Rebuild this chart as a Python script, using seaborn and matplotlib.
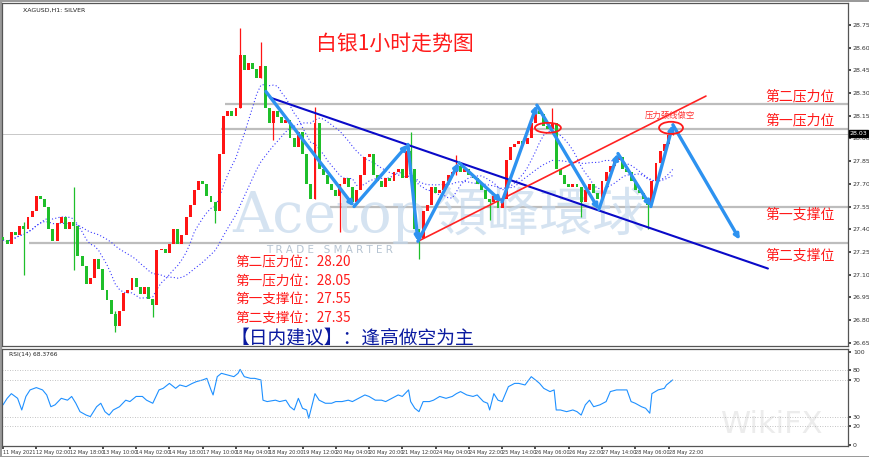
import numpy as np
import pandas as pd
import matplotlib
matplotlib.use("Agg")
import matplotlib.pyplot as plt
from matplotlib.patches import Ellipse
import seaborn as sns

# 2-hour closes of XAGUSD (11 May - 28 May 2021)
closes = [
    27.33, 27.30, 27.38, 27.36, 27.42, 27.40, 27.48, 27.52, 27.62, 27.60,
    27.55, 27.40, 27.32, 27.44, 27.48, 27.40, 27.45, 27.42, 27.22, 27.16,
    27.04, 27.08, 27.20, 27.14, 27.00, 26.93, 26.84, 26.76, 26.86, 26.98,
    27.00, 27.08, 27.02, 26.97, 27.02, 26.94, 26.90, 27.26, 27.27, 27.24,
    27.30, 27.40, 27.30, 27.36, 27.48, 27.56, 27.66, 27.72, 27.70, 27.62,
    27.58, 27.52, 27.90, 28.15, 28.18, 28.15, 28.20, 28.55, 28.45, 28.50,
    28.46, 28.40, 28.48, 28.20, 28.10, 28.18, 28.14, 28.10, 28.12, 28.00,
    27.94, 28.04, 27.90, 27.70, 27.60, 28.10, 27.80, 27.76, 27.70, 27.66,
    27.62, 27.70, 27.74, 27.68, 27.58, 27.66, 27.76, 27.88, 27.90, 27.76,
    27.72, 27.68, 27.74, 27.72, 27.78, 27.80, 27.74, 27.92, 27.80, 27.40,
    27.34, 27.52, 27.56, 27.68, 27.64, 27.66, 27.72, 27.76, 27.78, 27.82,
    27.78, 27.80, 27.76, 27.74, 27.70, 27.66, 27.60, 27.58, 27.62, 27.54,
    27.60, 27.86, 27.94, 27.96, 27.98, 27.96, 28.00, 28.10, 28.18, 28.16,
    28.08, 28.06, 28.10, 27.80, 27.76, 27.70, 27.68, 27.70, 27.68, 27.58,
    27.66, 27.70, 27.64, 27.60, 27.72, 27.78, 27.82, 27.86, 27.88, 27.80,
    27.78, 27.72, 27.66, 27.64, 27.60, 27.56, 27.72, 27.84, 27.92, 27.96,
    28.02, 28.03,
]
first_open = 27.35

# notable wicks: (candle index, low, high)
wicks = [
    (5, 27.10, 27.45), (17, 27.13, 27.68), (27, 26.72, 26.86), (36, 26.82, 26.94),
    (51, 27.44, 27.58), (57, 28.20, 28.73), (62, 28.40, 28.64), (65, 27.99, 28.18),
    (75, 27.60, 28.21), (81, 27.38, 27.70), (98, 27.80, 28.04), (100, 27.20, 27.40),
    (109, 27.76, 27.89), (117, 27.46, 27.60), (132, 28.06, 28.20), (139, 27.48, 27.68),
    (155, 27.40, 27.60), (161, 28.02, 28.10),
]

# RSI(14): hour index and value
rsi_hours = [
    0, 2, 4, 7, 9, 11, 13, 16, 19, 21, 23, 25, 28, 31, 33, 35, 37, 40, 42, 45,
    47, 49, 51, 53, 56, 59, 61, 64, 67, 69, 72, 75, 77, 80, 83, 85, 88, 91, 93, 96,
    98, 100, 101, 103, 105, 108, 111, 113, 114, 116, 119, 121, 124, 125, 127, 131, 133, 136, 138, 140,
    142, 144, 146, 147, 150, 152, 155, 158, 160, 163, 166, 168, 171, 174, 176, 179, 182, 184, 187, 190,
    192, 195, 196, 198, 200, 202, 205, 207, 210, 213, 216, 218, 220, 223, 226, 228, 231, 233, 234, 236,
    238, 240, 243, 246, 248, 251, 254, 256, 258, 260, 263, 265, 266, 268, 271, 274, 276, 278, 280, 282,
    284, 287, 290, 292, 295, 298, 300, 302, 304, 307, 309, 311, 312, 315, 318, 319, 322,
]
rsi_values = [
    43, 50, 55, 50, 37.5, 52, 59, 61.5, 59, 53.6, 41, 43, 50, 48, 52, 44.7, 35.7, 32, 30.4, 41,
    44.7, 35.7, 32, 37.5, 41, 48, 46.5, 52, 52, 48, 44.7, 59, 60.7, 66, 60.7, 64.3, 62.5, 66, 67.9, 69.7,
    71.4, 59, 53.6, 73.2, 76.8, 75, 73.2, 76.8, 81, 73.2, 71.4, 71.4, 69.7, 48, 46.5, 48, 46.5, 48, 41, 37.5,
    50, 39.3, 37.5, 28.6, 55, 48, 44.7, 44.7, 46.5, 46.5, 48, 46.5, 50, 53.6, 52, 48, 48, 46.5, 50, 53.6,
    52, 59, 46.5, 39.3, 35.7, 46.5, 46.5, 48, 52, 50, 52, 55, 57.2, 53.6, 52, 53.6, 46.5, 44.7, 37.5, 55,
    48, 46.5, 62.5, 66, 66, 64.3, 73.2, 69.7, 66, 60.7, 57.2, 59, 37.5, 37.5, 35.7, 37.5, 35.7, 32, 43, 48,
    41, 43, 46.5, 57.2, 59, 59, 59, 46.5, 44.7, 41, 39.3, 34, 55, 59, 60.7, 64.3, 69.7,
]
rsi_label = "RSI(14) 68.3766"

# analyst drawings (hour index, price)
zigzag_hours = [126.4, 168.8, 194.7, 199.5, 219.2, 239.9, 256.7, 286.5, 295.7, 311.5, 322.1, 354.3]
zigzag_prices = [28.31, 27.55, 27.96, 27.32, 27.84, 27.58, 28.22, 27.53, 27.90, 27.55, 28.09, 27.33]
down_trend = ([128.4, 367.8], [28.27, 27.14])
up_trend = ([199.5, 338.0], [27.32, 28.28])

level_names = ["第二压力位", "第一压力位", "第一支撑位", "第二支撑位"]
level_prices = [28.228, 28.06, 27.545, 27.31]
level_starts = [106.7, 105.0, 157.0, 12.5]
current_price = 28.03

price_ticks = [28.75, 28.60, 28.45, 28.30, 28.15, 28.00, 27.85, 27.70, 27.55, 27.40,
               27.25, 27.10, 26.95, 26.80, 26.65]
date_labels = ["11 May 2021", "12 May 02:00", "12 May 18:00", "13 May 10:00", "14 May 02:00",
               "14 May 18:00", "17 May 10:00", "18 May 04:00", "18 May 20:00", "19 May 12:00",
               "20 May 04:00", "20 May 20:00", "21 May 12:00", "24 May 04:00", "24 May 22:00",
               "25 May 14:00", "26 May 06:00", "26 May 22:00", "27 May 14:00", "28 May 06:00",
               "28 May 22:00"]
notes = ["第二压力位：28.20", "第一压力位：28.05", "第一支撑位：27.55", "第二支撑位：27.35"]
advice = "【日内建议】：逢高做空为主"

CJK = ["Noto Sans CJK SC", "DejaVu Sans"]
UP, DOWN = "#ff1414", "#1fbf2a"


def main():
    sns.set_theme(style="white")
    plt.rcParams["font.family"] = ["DejaVu Sans", "Noto Sans CJK SC"]

    fig = plt.figure(figsize=(8.7, 4.57), dpi=100)
    fig.patch.set_edgecolor("#9a9a9a")
    fig.patch.set_linewidth(2)
    ax = fig.add_axes([0.0023, 0.2429, 0.9724, 0.7505])
    rax = fig.add_axes([0.0023, 0.0241, 0.9724, 0.2123])

    hours = np.arange(len(closes)) * 2
    opens = [first_open] + closes[:-1]
    df = pd.DataFrame({"hour": hours, "open": opens, "close": closes})
    df["up"] = df["close"] >= df["open"]
    body = (df["close"] - df["open"]).abs().clip(lower=0.008)
    bottom = df[["open", "close"]].min(axis=1)
    colors = np.where(df["up"], UP, DOWN)

    for idx, lo, hi in wicks:
        ax.vlines(hours[idx], lo, hi, color=colors[idx], lw=0.9, zorder=3)
    ax.bar(df["hour"], body, bottom=bottom, width=1.4, color=colors, linewidth=0, zorder=3)

    # moving averages (dotted blue)
    df["ma_fast"] = df["close"].rolling(10, min_periods=1).mean()
    df["ma_slow"] = df["close"].rolling(25, min_periods=1).mean()
    for col in ["ma_fast", "ma_slow"]:
        sns.lineplot(data=df, x="hour", y=col, ax=ax, color="#3a3aff", lw=0.8,
                     linestyle=(0, (1, 2)), zorder=2)

    # horizontal levels
    for price, start in zip(level_prices, level_starts):
        ax.hlines(price, start, 410, color="#bdbdbd", lw=1.6, zorder=1)
    ax.axhline(current_price, color="#c8c8c8", lw=0.7, zorder=1)

    # trend lines
    ax.plot(*down_trend, color="#0a0ac8", lw=1.5, zorder=4)
    ax.plot(*up_trend, color="#ff2222", lw=1.2, zorder=4)

    # zigzag arrows
    for i in range(len(zigzag_hours) - 1):
        ax.annotate("", xy=(zigzag_hours[i + 1], zigzag_prices[i + 1]),
                    xytext=(zigzag_hours[i], zigzag_prices[i]),
                    arrowprops=dict(arrowstyle="-|>", color="#2d92f0", lw=2.4,
                                    mutation_scale=7, shrinkA=0, shrinkB=0),
                    zorder=5)

    ax.add_patch(Ellipse((262, 28.07), 12.5, 0.066, fill=False, ec="#ff1a1a", lw=1.3, zorder=6))
    ax.add_patch(Ellipse((321.2, 28.07), 11.5, 0.08, fill=False, ec="#ff1a1a", lw=1.3, zorder=6))
    ax.text(320.7, 28.155, "压力颈线做空", color="#ff3030", fontsize=6, family=CJK,
            ha="center", va="center", zorder=6)

    # watermark (behind the candles)
    ax.text(157, 27.48, "Acetop", fontsize=40, family="DejaVu Serif", color="#c4d8ec",
            alpha=0.7, ha="center", va="center", zorder=1.5)
    ax.text(258, 27.49, "領峰環球", fontsize=38, family=CJK, color="#c4d8ec",
            alpha=0.7, ha="center", va="center", zorder=1.5)
    ax.text(157, 27.262, "T R A D E   S M A R T E R", fontsize=7.5, color="#b6c4d2",
            ha="center", va="center", zorder=1.5)

    # texts
    ax.text(188.5, 28.624, "白银1小时走势图", color="#ff1a1a", fontsize=15, family=CJK,
            ha="center", va="center", zorder=7)
    for txt, p in zip(notes, [27.177, 27.058, 26.939, 26.813]):
        ax.text(111.5, p, txt, color="#ff1a1a", fontsize=9.8, family=CJK,
                ha="left", va="center", zorder=7)
    ax.text(109.5, 26.681, advice, color="#0a1aa0", fontsize=13.5, family=CJK,
            ha="left", va="center", zorder=7)
    for name, p in zip(level_names, [28.28, 28.116, 27.50, 27.223]):
        ax.text(383.2, p, name, color="#ff1a1a", fontsize=10, family=CJK,
                ha="center", va="center", zorder=7)
    ax.text(0.025, 0.985, "XAGUSD,H1: SILVER", transform=ax.transAxes, fontsize=4.5,
            ha="left", va="top", color="#222222")

    ax.set_xlim(-0.5, 406.3)
    ax.set_ylim(26.628, 28.895)
    ax.set_xlabel("")
    ax.set_ylabel("")
    ax.set_xticks([])
    ax.yaxis.tick_right()
    ax.set_yticks(price_ticks)
    ax.set_yticklabels([f"{t:.2f}" for t in price_ticks])
    ax.tick_params(axis="y", labelsize=4.5, length=2, pad=1.5, colors="#333333", right=True)
    ax.text(1.002, (current_price - 26.628) / (28.895 - 26.628), f"{current_price:.2f}",
            transform=ax.transAxes, fontsize=4.5, color="white", ha="left", va="center",
            bbox=dict(boxstyle="square,pad=0.15", fc="black", ec="black"), zorder=8)

    # RSI panel
    rsi = pd.DataFrame({"hour": rsi_hours, "rsi": rsi_values})
    sns.lineplot(data=rsi, x="hour", y="rsi", ax=rax, color="#1e90ff", lw=0.8)
    for lvl in [80, 70, 30, 20]:
        rax.axhline(lvl, color="#b0b0b0", lw=0.6, linestyle=(0, (1, 2)))
    rax.text(3, 100, rsi_label, fontsize=4.3, color="#222222", ha="left", va="top")
    rax.text(370, 22, "WikiFX", fontsize=22, color="#ececec", ha="center", va="center", zorder=0.5)
    rax.set_xlim(-0.5, 406.3)
    rax.set_ylim(-1.1, 102.9)
    rax.set_xlabel("")
    rax.set_ylabel("")
    rax.yaxis.tick_right()
    rax.set_yticks([100, 80, 70, 30, 20, 0])
    rax.tick_params(axis="y", labelsize=4.5, length=2, pad=1.5, colors="#333333", right=True)
    rax.set_xticks([16 * k for k in range(len(date_labels))])
    rax.set_xticklabels(date_labels, ha="left")
    rax.tick_params(axis="x", labelsize=3.6, length=2, pad=1, colors="#333333", bottom=True)

    for a in (ax, rax):
        for s in a.spines.values():
            s.set_color("#555555")
            s.set_linewidth(0.9)

    fig.savefig("out.png", dpi=100)
    plt.close(fig)


if __name__ == "__main__":
    main()
